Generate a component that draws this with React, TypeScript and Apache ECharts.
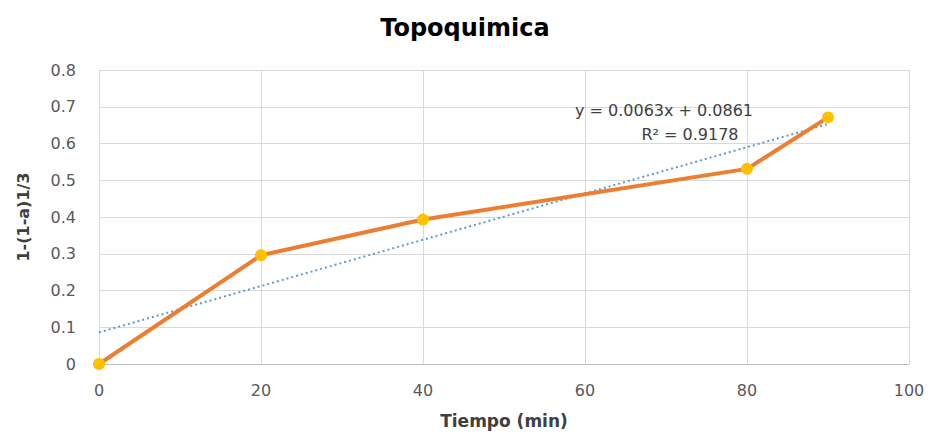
import React, { useEffect, useRef } from "react";
import * as echarts from "echarts";

const tiempo = [0, 20, 40, 80, 90];
const valores = [0, 0.296, 0.393, 0.531, 0.671];
const tendenciaX = [0, 90];
const tendenciaY = [0.0861, 0.6531];
const ecuacion = "y = 0.0063x + 0.0861";
const r2 = "R² = 0.9178";

export default function App() {
  const ref = useRef<HTMLDivElement>(null);
  useEffect(() => {
    if (!ref.current) return;
    const chart = echarts.init(ref.current, null, { renderer: "svg" });
    const font = "'DejaVu Sans', sans-serif";
    chart.setOption({
      animation: false,
      backgroundColor: "#ffffff",
      title: {
        text: "Topoquimica",
        left: "center",
        top: 11,
        textStyle: { fontSize: 24, fontWeight: "bold", color: "#000", fontFamily: font },
      },
      grid: { left: 99, right: 21, top: 70, bottom: 67 },
      xAxis: {
        type: "value",
        min: 0,
        max: 100,
        interval: 20,
        name: "Tiempo (min)",
        nameLocation: "middle",
        nameGap: 48,
        nameTextStyle: { fontSize: 17, fontWeight: "bold", color: "#404040", fontFamily: font },
        axisLine: { show: true, lineStyle: { color: "#bfbfbf" } },
        axisTick: { show: false },
        axisLabel: { fontSize: 16, color: "#595959", margin: 18, fontFamily: font },
        splitLine: { show: true, lineStyle: { color: "#d9d9d9" } },
      },
      yAxis: {
        type: "value",
        min: 0,
        max: 0.8,
        interval: 0.1,
        name: "1-(1-a)1/3",
        nameLocation: "middle",
        nameGap: 68,
        nameTextStyle: { fontSize: 16, fontWeight: "bold", color: "#404040", fontFamily: font },
        axisLine: { show: false },
        axisTick: { show: false },
        axisLabel: {
          fontSize: 16,
          color: "#595959",
          margin: 23,
          fontFamily: font,
          formatter: (v: number) => (v === 0 ? "0" : v.toFixed(1)),
        },
        splitLine: { show: true, lineStyle: { color: "#d9d9d9" } },
      },
      series: [
        {
          type: "line",
          data: tendenciaX.map((x, i) => [x, tendenciaY[i]]),
          symbol: "none",
          lineStyle: { color: "#5b9bd5", width: 2, type: [2, 3] },
          z: 3,
        },
        {
          type: "line",
          data: tiempo.map((x, i) => [x, valores[i]]),
          symbol: "circle",
          symbolSize: 12,
          lineStyle: { color: "#ed7d31", width: 4 },
          itemStyle: { color: "#ffc000", borderWidth: 0 },
          z: 4,
        },
      ],
      graphic: [
        {
          type: "text",
          x: 664,
          y: 110,
          style: {
            text: ecuacion,
            fontSize: 16,
            fontFamily: font,
            fill: "#404040",
            align: "center",
            verticalAlign: "middle",
          },
          z: 10,
        },
        {
          type: "text",
          x: 690,
          y: 134,
          style: {
            text: r2,
            fontSize: 16,
            fontFamily: font,
            fill: "#404040",
            align: "center",
            verticalAlign: "middle",
          },
          z: 10,
        },
      ],
    });
    return () => chart.dispose();
  }, []);
  return <div ref={ref} style={{ width: 930, height: 434, position: "absolute", left: 0, top: 0 }} />;
}
